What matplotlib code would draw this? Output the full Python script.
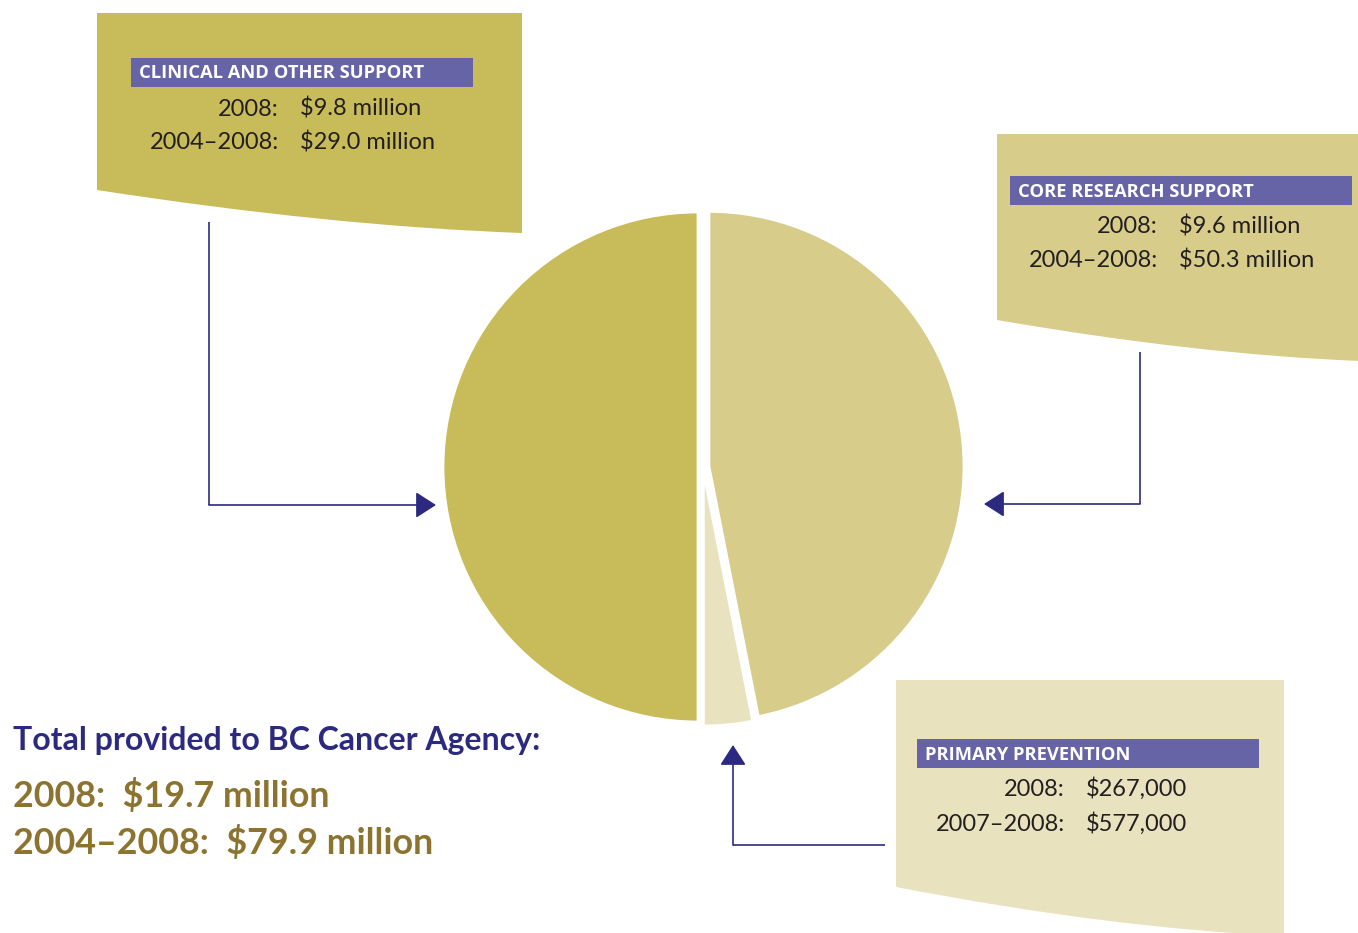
import matplotlib
matplotlib.use('Agg')
import matplotlib.pyplot as plt
from matplotlib.path import Path
from matplotlib.patches import PathPatch, Rectangle

# data
categories = ['CLINICAL AND OTHER SUPPORT', 'CORE RESEARCH SUPPORT', 'PRIMARY PREVENTION']
amount_2008 = ['$9.8 million', '$9.6 million', '$267,000']
period_labels = ['2004\u20132008:', '2004\u20132008:', '2007\u20132008:']
amount_period = ['$29.0 million', '$50.3 million', '$577,000']
# slice sizes as drawn in the picture (percent), pie order: clinical, primary, core
pie_labels = ['Clinical', 'Primary', 'Core']
pie_share = [50.0, 3.1, 46.9]
total_title = 'Total provided to BC Cancer Agency:'
total_lines = ['2008:  $19.7 million', '2004\u20132008:  $79.9 million']

H = 933
def Y(y):
    return H - y

c_clin = '#C8BB5A'
c_core = '#D7CC89'
c_prim = '#E8E2BF'
c_bar = '#6664A6'
navy = '#2B2A80'
gold = '#8C7430'
ink = '#231F20'
FONT = 'Lato'

fig = plt.figure(figsize=(13.58, 9.33), dpi=100)
ax = fig.add_axes([0, 0, 1, 1])

ax.pie(pie_share, colors=[c_clin, c_prim, c_core], startangle=90, counterclock=True,
       explode=[5, 4, 6], center=(703, Y(467)), radius=255,
       wedgeprops=dict(edgecolor='white', linewidth=2))
ax.set_xlim(0, 1358)
ax.set_ylim(0, H)
ax.axis('off')


def callout(x0, x1, top, yl, yr, color):
    cx = x0 + 0.55 * (x1 - x0)
    cy = yl + 0.84 * (yr - yl)
    verts = [(x0, Y(top)), (x1, Y(top)), (x1, Y(yr)), (cx, Y(cy)), (x0, Y(yl)), (x0, Y(top))]
    codes = [Path.MOVETO, Path.LINETO, Path.LINETO, Path.CURVE3, Path.CURVE3, Path.CLOSEPOLY]
    ax.add_patch(PathPatch(Path(verts, codes), facecolor=color, edgecolor='none', zorder=1))


callout(97, 522, 13, 190, 233, c_clin)
callout(997, 1360, 134, 320, 361, c_core)
callout(896, 1284, 680, 887, 936, c_prim)

# label bars and values: (bar x0, x1, top, bottom, text baseline, colon x, row baselines)
boxes = [
    (131, 473, 58, 87, 78, 279, 116, 149),
    (1010, 1352, 176, 205, 197, 1158, 233, 267),
    (917, 1259, 739, 768, 760, 1065, 796, 831),
]
for i, (bx0, bx1, bt, bb, tb, colx, r1, r2) in enumerate(boxes):
    ax.add_patch(Rectangle((bx0, Y(bb)), bx1 - bx0, bb - bt, facecolor=c_bar,
                           edgecolor='none', zorder=2))
    ax.text(bx0 + 8, Y(tb), categories[i], color='white', fontsize=13.2, fontweight='bold',
            family='Open Sans', va='baseline', ha='left', zorder=3)
    ax.text(colx, Y(r1), '2008:', color=ink, fontsize=17, family=FONT,
            va='baseline', ha='right', zorder=3)
    ax.text(colx + 21, Y(r1), amount_2008[i], color=ink, fontsize=17, family=FONT,
            va='baseline', ha='left', zorder=3)
    ax.text(colx, Y(r2), period_labels[i], color=ink, fontsize=17, family=FONT,
            va='baseline', ha='right', zorder=3)
    ax.text(colx + 21, Y(r2), amount_period[i], color=ink, fontsize=17, family=FONT,
            va='baseline', ha='left', zorder=3)

# connector lines with arrow heads
def connector(points):
    xs = [p[0] for p in points]
    ys = [Y(p[1]) for p in points]
    ax.plot(xs[:-1], ys[:-1], color=navy, lw=1.2, solid_capstyle='butt', zorder=2)
    ax.annotate('', xy=(xs[-1], ys[-1]), xytext=(xs[-2], ys[-2]),
                arrowprops=dict(arrowstyle='-|>,head_length=0.7,head_width=0.45',
                                color=navy, lw=1.2, shrinkA=0, shrinkB=0,
                                mutation_scale=18), zorder=2)

connector([(209, 222), (209, 505), (436, 505)])
connector([(1140, 352), (1140, 504), (984, 504)])
connector([(885, 845), (733, 845), (733, 745)])

# totals
ax.text(13, Y(750), total_title, color=navy, fontsize=23, fontweight='bold', family=FONT,
        va='baseline', ha='left')
ax.text(13, Y(807), total_lines[0], color=gold, fontsize=25.8, fontweight='bold', family=FONT,
        va='baseline', ha='left')
ax.text(13, Y(854), total_lines[1], color=gold, fontsize=25.8, fontweight='bold', family=FONT,
        va='baseline', ha='left')

fig.savefig('out.png', dpi=100, facecolor='white')
